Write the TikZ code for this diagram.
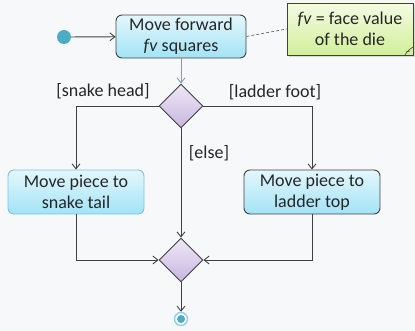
\documentclass[tikz,border=0pt]{standalone}
\usepackage{fontspec}
\setmainfont{Carlito}
\usetikzlibrary{arrows.meta,shapes.geometric,shadows}
\definecolor{bg}{HTML}{F7F8FA}
\definecolor{linec}{HTML}{404040}
\definecolor{txt}{HTML}{262626}
\definecolor{cyantop}{HTML}{E4F7FC}
\definecolor{cyanbot}{HTML}{A2E3F6}
\definecolor{cyanborder}{HTML}{7CC3DA}
\definecolor{purptop}{HTML}{EFE9F6}
\definecolor{purpbot}{HTML}{C8B5DF}
\definecolor{notetop}{HTML}{F4FBE3}
\definecolor{notebot}{HTML}{D2EF9A}
\definecolor{dotc}{HTML}{4BACC6}
\definecolor{ringc}{HTML}{8FD2E6}
\definecolor{bluearrow}{HTML}{7C9BCB}
\tikzset{
  act/.style={rounded corners=6pt, draw=linec, line width=0.9pt, top color=cyantop, bottom color=cyanbot,
    align=center, text=txt, inner sep=0pt, minimum height=44pt, minimum width=136pt},
  decis/.style={diamond, draw=linec, line width=0.9pt, top color=purptop, bottom color=purpbot,
    inner sep=0pt, minimum size=44pt},
  flow/.style={draw=linec, line width=0.9pt, -{Straight Barb[length=5pt,width=8pt]}},
  guard/.style={text=txt, inner sep=0pt},
}
\begin{document}
\begin{tikzpicture}[x=1pt,y=-1pt,font=\fontsize{18}{21}\selectfont]
\fill[bg] (0,0) rectangle (415,331);
\useasboundingbox (0,0) rectangle (415,331);

\node[circle, fill=dotc, minimum size=14pt, inner sep=0pt] (start) at (64,37) {};
\node[act, minimum width=130pt, minimum height=43pt] (b1) at (181,36.5) {Move forward\\\textit{fv} squares};
\node[draw=linec, line width=0.9pt, top color=notetop, bottom color=notebot, align=center, text=txt,
  minimum width=126pt, minimum height=52pt, inner sep=0pt,
  drop shadow={shadow xshift=2pt, shadow yshift=-2pt, opacity=0.25}] (note) at (350,29) {\textit{fv} = face value\\of the die};
\draw[linec, line width=0.6pt] (405,55) .. controls (407,51) and (410,49) .. (413,47);
\draw[linec, line width=0.6pt] (406,52) -- (410,51);

\node[decis] (d1) at (181,106) {};
\node[act, draw=cyanborder] (b2) at (76,192) {Move piece to\\snake tail};
\node[act] (b3) at (312,192) {Move piece to\\ladder top};
\node[decis] (d2) at (181,260) {};
\node[circle, draw=ringc, line width=1.4pt, fill=white, minimum size=13pt, inner sep=0pt] (end) at (181,319) {};
\fill[dotc] (end.center) circle (4pt);

\node[guard] (g1) at (103,91) {[snake head]};
\node[guard] (g2) at (275,92) {[ladder foot]};
\node[guard] (g3) at (209,153) {[else]};

\draw[flow] (start) -- (b1);
\draw[flow, draw=bluearrow] (b1) -- (d1);
\draw[densely dashed, draw=linec!80, line width=0.7pt] (b1.east) -- (note.west);
\draw[flow] (d1.west) -| (b2.north);
\draw[flow] (d1.east) -| (b3.north);
\draw[flow] (d1.south) -- (d2.north);
\draw[flow] (b2.south) |- (d2.west);
\draw[flow] (b3.south) |- (d2.east);
\draw[flow] (d2.south) -- (end.north);
\end{tikzpicture}
\end{document}
